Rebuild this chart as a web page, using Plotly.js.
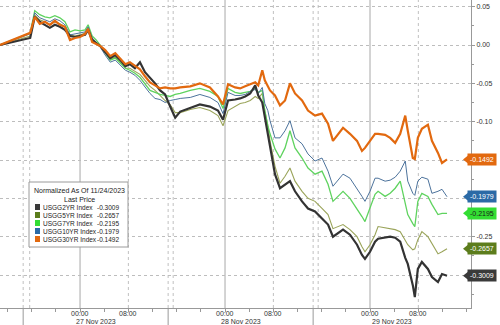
<!DOCTYPE html>
<html><head><meta charset="utf-8">
<script src="https://cdn.plot.ly/plotly-3.0.1.min.js"></script>
<style>html,body{margin:0;padding:0;background:#fff;}#chart{width:500px;height:325px;}</style>
</head><body><div id="chart"></div>
<script>
// ---------- DATA ----------
const times = [
"2023-11-26 10:45","2023-11-26 15:45","2023-11-26 16:30","2023-11-26 17:20","2023-11-26 18:10","2023-11-26 19:00","2023-11-26 19:50","2023-11-26 20:40","2023-11-26 21:30","2023-11-26 22:20","2023-11-26 23:10",
"2023-11-27 00:00","2023-11-27 00:50","2023-11-27 01:20","2023-11-27 02:00","2023-11-27 02:40","2023-11-27 03:20","2023-11-27 04:10","2023-11-27 05:00","2023-11-27 05:50","2023-11-27 06:40","2023-11-27 07:30","2023-11-27 08:15","2023-11-27 09:05","2023-11-27 09:55","2023-11-27 10:45","2023-11-27 11:35","2023-11-27 12:25","2023-11-27 13:15","2023-11-27 14:05","2023-11-27 14:55","2023-11-27 15:45","2023-11-27 16:35","2023-11-27 18:15","2023-11-27 19:50","2023-11-27 21:30","2023-11-27 22:50","2023-11-27 23:40",
"2023-11-28 00:30","2023-11-28 01:40","2023-11-28 02:30","2023-11-28 03:20","2023-11-28 04:10","2023-11-28 05:00","2023-11-28 05:30","2023-11-28 06:10",
"2023-11-28 06:35","2023-11-28 07:05","2023-11-28 07:27","2023-11-28 08:16","2023-11-28 09:06","2023-11-28 09:56","2023-11-28 10:45","2023-11-28 11:35","2023-11-28 12:45","2023-11-28 13:44","2023-11-28 14:54","2023-11-28 16:03","2023-11-28 17:03","2023-11-28 17:52","2023-11-28 19:32","2023-11-28 20:41","2023-11-28 21:51","2023-11-28 22:40","2023-11-28 23:10","2023-11-29 00:00","2023-11-29 00:50",
"2023-11-29 01:20","2023-11-29 02:30","2023-11-29 03:20","2023-11-29 04:10","2023-11-29 05:00","2023-11-29 05:50","2023-11-29 06:15","2023-11-29 07:05","2023-11-29 07:25","2023-11-29 07:55","2023-11-29 08:35","2023-11-29 09:35","2023-11-29 10:15","2023-11-29 11:15","2023-11-29 11:55","2023-11-29 12:45"
];
const usgg2yr = [0,0.0092,0.0368,0.0303,0.0263,0.0224,0.0263,0.0237,0.0197,0.0118,0.0105,
0.0118,0.0132,0.0197,0.0066,0.0026,-0.0013,-0.0092,-0.0171,-0.0132,-0.0197,-0.0276,-0.0250,-0.0303,-0.0224,-0.0355,-0.0421,-0.0500,-0.0592,-0.0645,-0.0803,-0.0947,-0.0868,-0.0816,-0.0776,-0.0803,-0.0855,-0.0974,
-0.0724,-0.0711,-0.0697,-0.0671,-0.0632,-0.0526,-0.0658,-0.0750,
-0.0947,-0.1184,-0.1342,-0.1684,-0.1868,-0.1816,-0.1776,-0.1908,-0.2039,-0.2132,-0.2171,-0.2263,-0.2342,-0.2500,-0.2408,-0.2474,-0.2605,-0.2737,-0.2789,-0.2697,-0.2566,
-0.2526,-0.2513,-0.2500,-0.2513,-0.2566,-0.2776,-0.2855,-0.3132,-0.3289,-0.2921,-0.2829,-0.2921,-0.3026,-0.3092,-0.2987,-0.3009];
const usgg5yr = [0,0.0118,0.0395,0.0329,0.0303,0.0263,0.0303,0.0276,0.0237,0.0132,0.0118,
0.0132,0.0158,0.0224,0.0079,0.0039,-0.0013,-0.0105,-0.0184,-0.0158,-0.0224,-0.0303,-0.0303,-0.0342,-0.0382,-0.0461,-0.0539,-0.0592,-0.0658,-0.0724,-0.0776,-0.0882,-0.0882,-0.0842,-0.0816,-0.0855,-0.0921,-0.1053,
-0.0855,-0.0803,-0.0763,-0.0750,-0.0724,-0.0671,-0.0697,-0.0632,
-0.0855,-0.1053,-0.1250,-0.1579,-0.1803,-0.1711,-0.1605,-0.1776,-0.1908,-0.2000,-0.2039,-0.2132,-0.2211,-0.2395,-0.2342,-0.2408,-0.2500,-0.2632,-0.2697,-0.2605,-0.2474,
-0.2368,-0.2382,-0.2395,-0.2408,-0.2434,-0.2539,-0.2605,-0.2671,-0.2658,-0.2539,-0.2434,-0.2500,-0.2592,-0.2724,-0.2697,-0.2657];
const usgg7yr = [0,0.0158,0.0447,0.0395,0.0368,0.0355,0.0382,0.0355,0.0303,0.0171,0.0197,
0.0184,0.0197,0.0263,0.0118,0.0066,0,-0.0105,-0.0197,-0.0171,-0.0237,-0.0303,-0.0329,-0.0368,-0.0421,-0.0500,-0.0592,-0.0618,-0.0645,-0.0658,-0.0671,-0.0645,-0.0632,-0.0592,-0.0566,-0.0605,-0.0671,-0.0829,
-0.0566,-0.0618,-0.0632,-0.0618,-0.0605,-0.0566,-0.0618,-0.0592,
-0.0855,-0.1053,-0.1158,-0.1355,-0.1474,-0.1342,-0.1118,-0.1342,-0.1474,-0.1605,-0.1684,-0.1645,-0.1816,-0.2039,-0.1908,-0.2000,-0.2132,-0.2237,-0.2303,-0.2132,-0.1947,
-0.1908,-0.1974,-0.1934,-0.1868,-0.1776,-0.2039,-0.2211,-0.2329,-0.2368,-0.2039,-0.1934,-0.1974,-0.2079,-0.2211,-0.2197,-0.2195];
const usgg10yr = [0,0.0145,0.0421,0.0355,0.0329,0.0303,0.0342,0.0316,0.0263,0.0132,0.0145,
0.0158,0.0171,0.0237,0.0092,0.0039,-0.0026,-0.0132,-0.0224,-0.0197,-0.0263,-0.0329,-0.0355,-0.0395,-0.0461,-0.0553,-0.0632,-0.0697,-0.0711,-0.0750,-0.0724,-0.0711,-0.0697,-0.0684,-0.0645,-0.0684,-0.0750,-0.0895,
-0.0618,-0.0658,-0.0658,-0.0645,-0.0605,-0.0579,-0.0632,-0.0553,
-0.0763,-0.0855,-0.0987,-0.1211,-0.1211,-0.1118,-0.0987,-0.1211,-0.1289,-0.1421,-0.1513,-0.1474,-0.1645,-0.1842,-0.1684,-0.1737,-0.1868,-0.1974,-0.2039,-0.1908,-0.1737,
-0.1737,-0.1776,-0.1763,-0.1724,-0.1645,-0.1513,-0.1776,-0.1934,-0.1961,-0.1776,-0.1724,-0.1750,-0.1934,-0.1908,-0.1882,-0.1979];
const usgg30yr = [0,0.0158,0.0368,0.0276,0.0303,0.0263,0.0316,0.0263,0.0237,0.0066,0.0092,
0.0105,0.0145,0.0211,0.0039,0.0013,-0.0013,-0.0066,-0.0145,-0.0105,-0.0171,-0.0250,-0.0224,-0.0276,-0.0316,-0.0408,-0.0487,-0.0526,-0.0566,-0.0553,-0.0566,-0.0566,-0.0553,-0.0539,-0.0500,-0.0553,-0.0671,-0.0776,
-0.0513,-0.0553,-0.0566,-0.0539,-0.0513,-0.0487,-0.0526,-0.0329,
-0.0461,-0.0539,-0.0592,-0.0658,-0.0789,-0.0724,-0.0500,-0.0632,-0.0724,-0.0855,-0.0921,-0.0895,-0.1026,-0.1250,-0.1079,-0.1158,-0.1250,-0.1382,-0.1342,-0.1250,-0.1158,
-0.1158,-0.1171,-0.1211,-0.1276,-0.1158,-0.0921,-0.1118,-0.1474,-0.1487,-0.1211,-0.1092,-0.1039,-0.1250,-0.1408,-0.1539,-0.1492];

const seriesNames = ["USGG2YR Index","USGG5YR Index","USGG7YR Index","USGG10YR Index","USGG30YR Index"];
const lastValues = [-0.3009,-0.2657,-0.2195,-0.1979,-0.1492];
const legendTitle = "Normalized As Of 11/24/2023";
const legendSubtitle = "Last Price";

const yTickVals = [0.05,0,-0.05,-0.10,-0.15,-0.20,-0.25,-0.30];
const xTickVals = ["2023-11-27 00:00","2023-11-27 08:00","2023-11-28 00:00","2023-11-28 08:00","2023-11-29 00:00","2023-11-29 08:00"];
const xTickText = ["00:00","08:00","00:00","08:00","00:00","08:00"];
const dayLabels = ["27 Nov 2023","28 Nov 2023","29 Nov 2023"];
const daySeparators = ["2023-11-26 14:35","2023-11-27 14:35","2023-11-28 14:35"];
const midnightLines = ["2023-11-27 00:00","2023-11-28 00:00","2023-11-29 00:00"];
const dottedLines = ["2023-11-26 15:40","2023-11-27 08:00","2023-11-27 15:25","2023-11-28 08:00","2023-11-28 15:25","2023-11-29 08:00"];
const xRange = ["2023-11-26 10:45","2023-11-29 16:43"];
const yRange = [-0.343,0.0587];

// ---------- STYLE ----------
const seriesData = [usgg2yr,usgg5yr,usgg7yr,usgg10yr,usgg30yr];
const lineColors = ["#333333","#9aa45a","#5fd35f","#4d739c","#e2690f"];
const lineWidths = [2.2,1.1,1.3,1.0,2.2];
const boxColors = ["#3a3a3a","#5c7d1c","#33dd33","#2b6aa6","#e2690f"];
const boxText = ["#ffffff","#ffffff","#1a1a1a","#ffffff","#ffffff"];
const drawOrder = [1,2,3,0,4];
const FONT = "Liberation Sans, Arial, sans-serif";
const FS = 7, LFS = 6.5;
const PW = 471, PH = 308; // plot area in px

const traces = drawOrder.map(i => ({
  type:'scatter', mode:'lines', x: times, y: seriesData[i], name: seriesNames[i],
  line:{color: lineColors[i], width: lineWidths[i]}, hoverinfo:'skip'
}));

const px = v => v/PW, py = v => 1 - v/PH;
const shapes = [];
midnightLines.forEach(t => shapes.push({type:'line',xref:'x',yref:'paper',x0:t,x1:t,y0:0,y1:1,layer:'below',line:{color:'#a8a8a8',width:1}}));
dottedLines.forEach(t => shapes.push({type:'line',xref:'x',yref:'paper',x0:t,x1:t,y0:0,y1:1,layer:'below',line:{color:'#c0c0c0',width:1,dash:'dot'}}));
daySeparators.forEach(t => {
  shapes.push({type:'line',xref:'x',yref:'paper',x0:t,x1:t,y0:0,y1:1,layer:'below',line:{color:'#c0c0c0',width:1,dash:'dot'}});
  shapes.push({type:'line',xref:'x',yref:'paper',x0:t,x1:t,y0:-0.06,y1:0,line:{color:'#999',width:1}});
});
// legend box
shapes.push({type:'rect',xref:'paper',yref:'paper',x0:px(29),x1:px(128),y0:py(247),y1:py(182),fillcolor:'rgba(255,255,255,0.97)',line:{color:'#9a9a9a',width:1}});

const annotations = [];
const txt = (extra) => Object.assign({showarrow:false,yanchor:'middle',font:{size:FS,color:'#333',family:FONT}}, extra);
// time labels on the x axis
xTickVals.forEach((t,i) => annotations.push(txt({xref:'x',yref:'paper',x:t,y:py(313),xanchor:'center',text:xTickText[i]})));
// date labels centred between separators
const toMs = s => Date.parse(s.replace(' ','T')+':00Z');
const fromMs = m => new Date(m).toISOString().slice(0,16).replace('T',' ');
dayLabels.forEach((lab,i) => {
  const a = toMs(daySeparators[i]);
  const b = i+1 < daySeparators.length ? toMs(daySeparators[i+1]) : toMs(xRange[1]);
  annotations.push(txt({xref:'x',yref:'paper',x:fromMs((a+b)/2),y:py(321),xanchor:'center',text:lab}));
});
// last price labels with left-pointing notch
const notchH = 4/766;
seriesNames.forEach((n,i) => {
  const v = lastValues[i];
  shapes.push({type:'path',xref:'paper',yref:'y',path:`M ${px(463)},${v} L ${px(468)},${v+notchH} L ${px(468)},${v-notchH} Z`,fillcolor:boxColors[i],line:{width:0}});
  annotations.push(txt({xref:'paper',yref:'y',x:1,y:v,xanchor:'left',xshift:-4,
    text:v.toFixed(4),bgcolor:boxColors[i],borderpad:2,
    font:{size:FS,color:boxText[i],family:FONT}}));
});
// legend text
annotations.push(txt({xref:'paper',yref:'paper',x:px(79),y:py(190),xanchor:'center',text:legendTitle,font:{size:FS,color:'#222',family:FONT}}));
annotations.push(txt({xref:'paper',yref:'paper',x:px(79),y:py(199),xanchor:'center',text:legendSubtitle,font:{size:FS,color:'#222',family:FONT}}));
seriesNames.forEach((n,i) => {
  const yy = 207 + i*8;
  shapes.push({type:'rect',xref:'paper',yref:'paper',x0:px(35),x1:px(40),y0:py(yy+3),y1:py(yy-3),fillcolor:boxColors[i],line:{width:0}});
  annotations.push(txt({xref:'paper',yref:'paper',x:px(41),y:py(yy),xanchor:'left',text:n,font:{size:LFS,color:'#222',family:FONT}}));
  annotations.push(txt({xref:'paper',yref:'paper',x:px(121),y:py(yy),xanchor:'right',text:lastValues[i].toFixed(4),font:{size:LFS,color:'#222',family:FONT}}));
});

// y tick labels hidden where a last-price box covers them (as in the reference)
const yTickText = yTickVals.map(v => lastValues.some(l => Math.abs(l - v) < 0.006) ? '' : v.toFixed(2));

const layout = {
  width:500, height:325, margin:{l:0,r:29,t:0,b:17,pad:0},
  paper_bgcolor:'#ffffff', plot_bgcolor:'#ffffff', showlegend:false,
  font:{family:FONT,size:FS,color:'#333'},
  xaxis:{type:'date',range:xRange,showgrid:false,zeroline:false,showline:true,linecolor:'#999',linewidth:1,
    tickmode:'array',tickvals:xTickVals,ticktext:xTickText,showticklabels:false,ticks:'outside',ticklen:3,tickcolor:'#999',
    minor:{tickmode:'linear',tick0:'2023-11-27 00:00',dtick:4*3600*1000,ticks:'outside',ticklen:3,tickcolor:'#999',showgrid:false}},
  yaxis:{side:'right',range:yRange,tickmode:'array',tickvals:yTickVals,ticktext:yTickText,
    showgrid:true,gridcolor:'#bdbdbd',griddash:'dot',gridwidth:1,zeroline:false,showline:true,linecolor:'#999',
    ticks:'outside',ticklen:3,tickcolor:'#999',tickfont:{size:FS,color:'#333',family:FONT},
    minor:{tickmode:'linear',tick0:0,dtick:0.025,ticks:'outside',ticklen:2,tickcolor:'#999',showgrid:false}},
  shapes, annotations
};
Plotly.newPlot('chart', traces, layout, {staticPlot:true, displayModeBar:false});
</script>
</body></html>
